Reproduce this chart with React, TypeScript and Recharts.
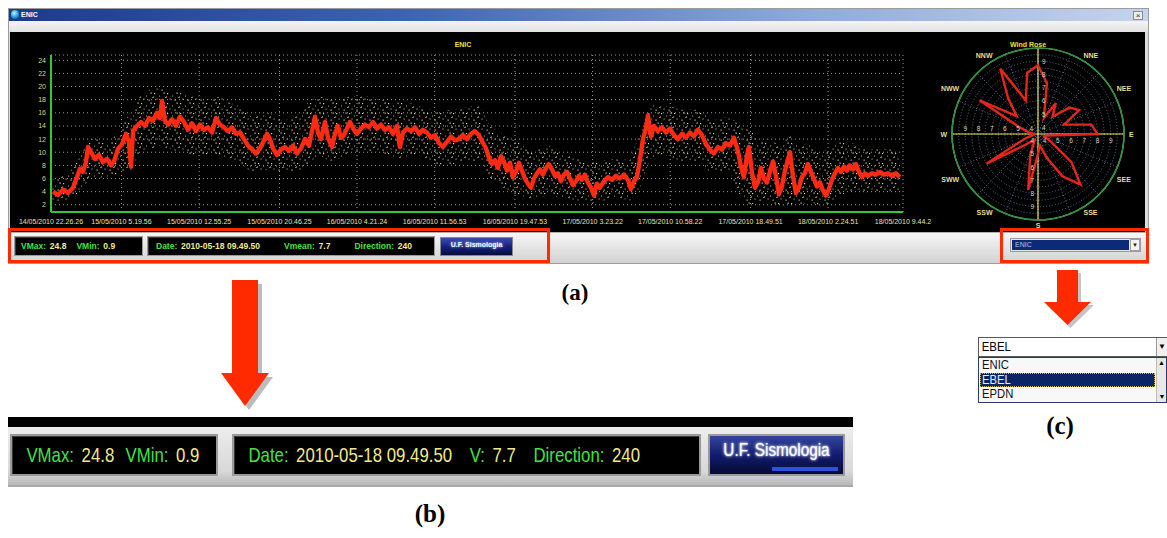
import React from 'react';
import {
  ComposedChart, Line, Area, XAxis, YAxis, CartesianGrid,
  RadarChart, Radar, PolarGrid, PolarAngleAxis, PolarRadiusAxis,
} from 'recharts';

// wind speed at ENIC (m/s), running mean, hours after 14/05/2010 22.26.26
const sampleHours = [
  0.20, 0.68, 1.17, 1.66, 2.15, 2.54, 2.83, 3.13, 3.42, 3.62,
  3.91, 4.30, 4.69, 5.08, 5.47, 5.87, 6.16, 6.55, 6.94, 7.33,
  7.62, 7.82, 8.02, 8.41, 8.80, 9.19, 9.58, 9.97, 10.36, 10.65,
  10.85, 11.14, 11.44, 11.83, 12.22, 12.61, 13.00, 13.39, 13.78, 14.17,
  14.56, 14.96, 15.35, 15.74, 16.13, 16.52, 16.91, 17.30, 17.69, 18.08,
  18.47, 18.87, 19.26, 19.65, 20.04, 20.43, 20.82, 21.11, 21.41, 21.70,
  22.09, 22.48, 22.87, 23.26, 23.66, 24.05, 24.44, 24.83, 25.22, 25.51,
  25.81, 26.10, 26.39, 26.78, 27.08, 27.47, 27.76, 28.05, 28.35, 28.64,
  28.93, 29.23, 29.62, 29.91, 30.30, 30.69, 31.08, 31.48, 31.87, 32.26,
  32.65, 33.04, 33.43, 33.82, 34.11, 34.41, 34.80, 35.19, 35.58, 35.97,
  36.36, 36.75, 37.15, 37.54, 37.93, 38.32, 38.71, 39.10, 39.49, 39.88,
  40.27, 40.66, 41.06, 41.45, 41.84, 42.23, 42.52, 42.81, 43.11, 43.40,
  43.69, 43.99, 44.28, 44.57, 44.87, 45.16, 45.45, 45.75, 46.04, 46.33,
  46.63, 46.92, 47.21, 47.51, 47.80, 48.09, 48.39, 48.68, 48.97, 49.27,
  49.56, 49.85, 50.15, 50.44, 50.73, 51.03, 51.32, 51.61, 51.91, 52.20,
  52.49, 52.79, 53.08, 53.37, 53.66, 54.06, 54.45, 54.84, 55.23, 55.62,
  56.01, 56.40, 56.70, 56.99, 57.28, 57.57, 57.87, 58.16, 58.36, 58.65,
  58.94, 59.33, 59.73, 60.12, 60.51, 60.90, 61.29, 61.68, 62.07, 62.46,
  62.85, 63.24, 63.64, 64.03, 64.42, 64.81, 65.20, 65.59, 65.98, 66.37,
  66.76, 67.15, 67.45, 67.74, 68.03, 68.23, 68.52, 68.82, 69.11, 69.40,
  69.70, 69.99, 70.28, 70.58, 70.87, 71.16, 71.46, 71.75, 72.04, 72.24,
  72.53, 72.82, 73.12, 73.41, 73.70, 74.00, 74.29, 74.58, 74.88, 75.17,
  75.46, 75.76, 76.05, 76.34, 76.64, 76.93, 77.22, 77.52, 77.81, 78.10,
  78.40, 78.69, 78.98, 79.28, 79.57, 79.86, 80.25, 80.64, 81.04, 81.43,
  81.82, 82.21, 82.60, 82.99,
];
const meanSpeed = [
  4.0, 3.5, 4.3, 3.8, 4.6, 6.2, 7.5, 7.0, 8.5, 10.8,
  10.0, 9.0, 9.6, 8.5, 9.0, 8.0, 8.6, 10.5, 11.2, 12.8,
  11.5, 7.8, 13.2, 14.0, 14.6, 14.0, 15.2, 14.8, 16.0, 15.2,
  17.8, 14.8, 14.2, 15.0, 14.0, 15.4, 14.6, 13.4, 14.4, 13.2,
  14.2, 13.4, 13.8, 13.0, 15.2, 14.2, 13.8, 13.2, 13.8, 12.8,
  13.0, 12.0, 11.0, 10.5, 9.8, 10.6, 11.8, 12.8, 12.0, 10.6,
  9.6, 10.4, 10.8, 10.2, 11.0, 9.8, 10.6, 12.0, 11.0, 13.2,
  15.4, 13.0, 12.0, 14.6, 12.2, 10.8, 12.8, 14.0, 12.2, 12.6,
  13.6, 14.6, 13.4, 12.8, 13.6, 14.2, 13.8, 14.6, 13.6, 14.2,
  13.4, 13.8, 12.8, 14.0, 10.8, 13.0, 13.6, 13.2, 13.8, 12.8,
  13.4, 13.0, 12.2, 12.6, 11.4, 10.8, 11.6, 12.4, 11.8, 12.0,
  12.6, 12.0, 12.8, 13.2, 12.6, 11.4, 10.6, 9.2, 8.2, 8.8,
  7.6, 9.4, 8.6, 7.2, 8.4, 6.2, 7.0, 8.4, 7.2, 6.0,
  5.2, 4.6, 6.0, 6.8, 7.4, 6.6, 7.6, 8.2, 7.4, 6.4,
  6.8, 5.6, 6.6, 7.0, 6.0, 5.0, 5.6, 6.4, 5.8, 6.6,
  5.4, 4.6, 3.4, 5.2, 4.6, 5.6, 6.2, 5.8, 6.4, 6.0,
  6.6, 5.8, 4.4, 5.6, 6.2, 8.8, 12.0, 13.6, 15.6, 12.4,
  14.0, 13.2, 13.8, 13.0, 13.6, 12.6, 12.0, 12.8, 12.2, 13.0,
  12.4, 13.4, 12.6, 11.2, 10.4, 9.8, 10.8, 10.4, 11.4, 11.0,
  12.2, 10.2, 7.8, 6.2, 9.4, 10.8, 7.0, 4.6, 5.4, 7.6,
  6.0, 5.4, 7.0, 8.6, 6.4, 3.6, 4.8, 7.2, 8.8, 10.0,
  6.4, 3.8, 4.6, 6.2, 6.8, 8.2, 7.0, 6.0, 4.8, 5.4,
  4.2, 3.4, 4.4, 5.8, 6.8, 7.6, 7.0, 7.8, 7.2, 8.0,
  7.4, 8.2, 7.0, 6.2, 6.8, 6.4, 6.8, 6.6, 7.0, 6.6,
  6.8, 6.4, 6.8, 6.2,
];

// spread of the raw readings around the mean
const cloudHours = [
  0, 0.88, 1.86, 2.83, 3.81, 4.79, 5.77, 6.74, 7.72, 8.70,
  9.68, 10.65, 11.63, 12.61, 13.59, 14.56, 15.54, 16.52, 17.50, 18.47,
  19.45, 20.43, 21.41, 22.38, 23.36, 24.34, 25.32, 26.30, 27.27, 28.25,
  29.23, 30.21, 31.18, 32.16, 33.14, 34.11, 35.09, 36.07, 37.05, 38.02,
  39.00, 39.98, 40.96, 41.94, 42.91, 43.89, 44.87, 45.85, 46.82, 47.80,
  48.78, 49.76, 50.73, 51.71, 52.69, 53.66, 54.64, 55.62, 56.60, 57.57,
  58.55, 59.53, 60.51, 61.48, 62.46, 63.44, 64.42, 65.40, 66.37, 67.35,
  68.33, 69.31, 70.28, 71.26, 72.24, 73.22, 74.19, 75.17, 76.15, 77.13,
  78.10, 79.08, 80.06, 81.04, 82.01, 82.99,
];
const cloudLow = [
  2.4, 2.4, 2.8, 4.0, 6.0, 6.2, 6.0, 7.0, 7.0, 10.0,
  10.5, 11.0, 10.5, 10.0, 9.5, 9.5, 9.5, 9.5, 9.0, 8.5,
  7.0, 7.0, 7.5, 7.0, 7.0, 7.0, 8.5, 9.5, 8.5, 9.0,
  10.0, 10.0, 10.0, 10.0, 9.5, 9.0, 9.5, 9.5, 8.5, 8.0,
  8.0, 8.5, 8.5, 8.5, 6.0, 5.0, 3.8, 3.5, 2.8, 3.2,
  3.5, 3.0, 2.8, 2.6, 2.2, 2.4, 3.0, 3.0, 2.6, 4.5,
  9.0, 9.5, 9.5, 8.5, 8.5, 8.5, 7.0, 7.0, 7.0, 3.5,
  2.0, 2.5, 2.5, 1.8, 2.0, 2.0, 2.5, 1.8, 2.2, 3.5,
  4.0, 3.8, 4.0, 4.0, 4.0, 4.0,
];
const cloudHigh = [
  5.8, 6.2, 7.0, 9.5, 12.0, 12.0, 11.5, 13.5, 16.0, 18.5,
  19.5, 20.0, 19.5, 19.0, 18.5, 18.5, 18.0, 18.5, 17.5, 17.0,
  15.5, 15.5, 16.0, 15.0, 15.0, 16.0, 18.0, 18.5, 18.0, 18.0,
  18.5, 18.5, 18.5, 18.0, 18.0, 17.5, 17.5, 17.0, 16.5, 16.0,
  16.5, 16.5, 17.0, 17.0, 14.0, 13.0, 12.0, 11.5, 10.0, 10.5,
  11.0, 10.0, 9.5, 9.0, 8.5, 8.5, 9.0, 9.0, 8.8, 13.0,
  17.5, 17.0, 17.0, 16.5, 16.5, 16.5, 15.0, 15.0, 15.5, 14.0,
  13.5, 11.5, 12.0, 11.0, 12.5, 11.0, 11.5, 10.0, 10.5, 11.5,
  11.5, 11.0, 10.5, 10.5, 10.5, 10.0,
];

const timeTicks = [
  '14/05/2010 22.26.26', '15/05/2010 5.19.56', '15/05/2010 12.55.25', '15/05/2010 20.46.25',
  '16/05/2010 4.21.24', '16/05/2010 11.56.53', '16/05/2010 19.47.53', '17/05/2010 3.23.22',
  '17/05/2010 10.58.22', '17/05/2010 18.49.51', '18/05/2010 2.24.51', '18/05/2010 9.44.2',
];
const speedTicks = [2, 4, 6, 8, 10, 12, 14, 16, 18, 20, 22, 24];

const vMax = 24.8;
const vMin = 0.9;
const lastDate = '2010-05-18 09.49.50';
const vMean = 7.7;
const direction = 240;

// wind rose: mean speed per 10 degree sector, clockwise from north
const roseDirs = [0, 10, 20, 30, 40, 50, 60, 70, 80, 90, 100, 110, 120, 130, 140, 150, 160, 170,
  180, 190, 200, 210, 220, 230, 240, 250, 260, 270, 280, 290, 300, 310, 320, 330, 340, 350];
const roseSpeed = [8.7, 7.4, 4.8, 6.2, 5.2, 6.6, 7.1, 5.6, 7.6, 8.0, 4.2, 4.0, 4.6, 6.8, 8.5, 7.2, 5.4, 4.4,
  5.0, 7.8, 5.2, 4.0, 4.2, 4.8, 8.0, 4.6, 3.9, 3.8, 4.2, 5.0, 8.6, 5.6, 7.0, 9.2, 6.2, 8.2];
const compassNames = ['', 'NNE', 'NEE', 'E', 'SEE', 'SSE', 'S', 'SSW', 'SWW', 'W', 'NWW', 'NNW'];
const roseRings = [3.5, 4, 4.5, 5, 5.5, 6, 6.5, 7, 7.5, 8, 8.5, 9, 9.5];

const stations = ['ENIC', 'EBEL', 'EPDN'];

function toHours(label: string) {
  const [d, t] = label.split(' ');
  const [dd, mm, yy] = d.split('/').map(Number);
  const [h, m, s] = t.split('.').map(Number);
  return Date.UTC(yy, mm - 1, dd, h, m, s || 0) / 3600000;
}
const t0 = toHours(timeTicks[0]);
const tickHours = timeTicks.map((l) => toHours(l) - t0);

const windData = [
  ...sampleHours.map((h, i) => ({ h, v: meanSpeed[i] })),
  ...cloudHours.map((h, i) => ({ h, cloud: [cloudLow[i], cloudHigh[i]] })),
].sort((a, b) => a.h - b.h);

const roseData = roseDirs.map((dir, i) => ({ dir, v: roseSpeed[i] }));

const ROSE_CX = 100;
const ROSE_CY = 100;
const ROSE_R = 86;

const GREEN = '#46e046';
const PALE = '#f0ea8c';

const abs = (left: number, top: number, width: number, height: number, extra: React.CSSProperties = {}): React.CSSProperties =>
  ({ position: 'absolute', left, top, width, height, boxSizing: 'border-box', ...extra });

function TimeTick({ x, y, payload }: any) {
  const i = tickHours.indexOf(payload.value);
  return (
    <text x={x} y={y} dy={7} textAnchor="middle" fill="#e6e2b4" fontSize={7} fontFamily="Liberation Sans, Arial">
      {timeTicks[i] ?? ''}
    </text>
  );
}

function SpeedTick({ x, y, payload }: any) {
  return (
    <text x={x} y={y} dy={2.5} textAnchor="end" fill="#d8d48a" fontSize={7} fontFamily="Liberation Sans, Arial">
      {payload.value}
    </text>
  );
}

function CompassTick({ x, y, payload, textAnchor }: any) {
  const v = payload.value;
  const name = v % 30 === 0 ? compassNames[v / 30] : '';
  if (!name) return <g />;
  return (
    <text x={x} y={y} dy={2.5} textAnchor={textAnchor} fill="#e4dc98" fontSize={7} fontWeight="bold" fontFamily="Liberation Sans, Arial">
      {name}
    </text>
  );
}

function RingTick({ x, payload, cx }: any) {
  const v = payload.value;
  if (!Number.isInteger(v)) return <g />;
  const c = typeof cx === 'number' ? cx : ROSE_CX;
  const r = x - c;
  const props = { fill: '#d6d6b0', fontSize: 6.5, fontFamily: 'Liberation Sans, Arial' };
  return (
    <g>
      <text x={ROSE_CX + r} y={ROSE_CY + 9} textAnchor="middle" {...props}>{v}</text>
      <text x={ROSE_CX - r} y={ROSE_CY - 3} textAnchor="middle" {...props}>{v}</text>
      <text x={ROSE_CX + 4} y={ROSE_CY - r + 2.5} textAnchor="start" {...props}>{v}</text>
      <text x={ROSE_CX - 4} y={ROSE_CY + r + 2.5} textAnchor="end" {...props}>{v}</text>
    </g>
  );
}

function StatusText({ items, size, gap }: { items: [string, string][]; size: number; gap: number }) {
  return (
    <>
      {items.map(([label, value], i) => (
        <span key={i} style={{ marginLeft: i ? gap : 0, whiteSpace: 'nowrap' }}>
          <span style={{ color: GREEN }}>{label}</span>
          <span style={{ color: PALE, marginLeft: size * 0.45 }}>{value}</span>
        </span>
      ))}
    </>
  );
}

const blackBox = (left: number, top: number, width: number, height: number, border: number): React.CSSProperties =>
  abs(left, top, width, height, {
    background: '#000',
    border: `${border}px solid #9a9a9a`,
    boxShadow: 'inset 1px 1px 0 #3a3a3a',
    display: 'flex',
    alignItems: 'center',
    overflow: 'hidden',
    whiteSpace: 'nowrap',
  });

export default function App() {
  return (
    <div style={abs(0, 0, 1167, 538, { background: '#fff', overflow: 'hidden', fontFamily: '"Liberation Sans", Arial, sans-serif' })}>
      {/* application window */}
      <div style={abs(8, 8, 1141, 256, { background: '#dcdcdc', border: '1px solid #9c9c9c' })} />
      <div style={abs(9, 9, 1139, 12, { background: 'linear-gradient(90deg, #1c3a8a 0%, #3d64b0 35%, #8eaad8 70%, #c6d4ec 100%)' })} />
      <div style={abs(11, 10, 8, 9, { borderRadius: 4, background: 'radial-gradient(circle at 40% 35%, #b8f0ff, #1e90c8 60%, #0a4a80)' })} />
      <div style={abs(21, 9, 40, 12, { color: '#fff', fontSize: 7, fontWeight: 'bold', lineHeight: '12px' })}>ENIC</div>
      <div style={abs(1133, 11, 10, 9, { background: '#ececec', border: '1px solid #8a8a8a', fontSize: 8, lineHeight: '7px', textAlign: 'center', color: '#333' })}>×</div>
      <div style={abs(9, 21, 1139, 11, { background: 'linear-gradient(#f4f4f4, #e2e2e2)' })} />
      <div style={abs(10, 32, 1135, 200, { background: '#000' })} />
      <div style={abs(9, 232, 1139, 31, { background: 'linear-gradient(#f6f6f6, #d2d2d2)', borderTop: '1px solid #b0b0b0' })} />

      {/* time series */}
      <div style={abs(10, 32, 930, 200)}>
        <ComposedChart width={930} height={200} data={windData} margin={{ top: 23, right: 37, bottom: 4, left: 5 }}>
          <defs>
            <pattern id="speckle" width="13" height="10" patternUnits="userSpaceOnUse">
              <rect x="1" y="1" width="1.2" height="1.2" fill="#d6cd8a" />
              <rect x="6" y="3.5" width="1.1" height="1.1" fill="#8aa066" />
              <rect x="10.5" y="0.5" width="1.2" height="1.2" fill="#e2da9a" />
              <rect x="3.5" y="6.5" width="1.1" height="1.1" fill="#b4aa70" />
              <rect x="8.5" y="7.5" width="1.2" height="1.2" fill="#d0c586" />
              <rect x="12" y="5" width="1" height="1" fill="#7a905c" />
              <rect x="0" y="4.5" width="1.1" height="1.1" fill="#c2b980" />
            </pattern>
          </defs>
          <CartesianGrid stroke="#9a9a9a" strokeDasharray="1 3" />
          <XAxis
            type="number"
            dataKey="h"
            domain={[0, tickHours[tickHours.length - 1]]}
            ticks={tickHours}
            interval={0}
            allowDataOverflow
            height={16}
            tick={<TimeTick />}
            tickLine={false}
            tickSize={3}
            axisLine={{ stroke: '#34c834', strokeWidth: 2 }}
          />
          <YAxis
            type="number"
            domain={[vMin, vMax]}
            ticks={speedTicks}
            interval={0}
            allowDataOverflow
            width={36}
            tick={<SpeedTick />}
            tickLine={false}
            tickSize={3}
            tickMargin={2}
            axisLine={{ stroke: '#34c834', strokeWidth: 2 }}
          />
          <Area type="linear" dataKey="cloud" fill="url(#speckle)" fillOpacity={1} stroke="none" connectNulls isAnimationActive={false} />
          <Line type="linear" dataKey="v" stroke="#ff2a12" strokeWidth={4.4} strokeLinejoin="round" dot={false} connectNulls isAnimationActive={false} />
        </ComposedChart>
      </div>
      <div style={abs(440, 40, 46, 10, { color: '#e8e43a', fontSize: 7, fontWeight: 'bold', textAlign: 'center', lineHeight: '10px' })}>ENIC</div>

      {/* wind rose */}
      <div style={abs(938, 34, 200, 196)}>
        <RadarChart width={200} height={196} cx={ROSE_CX} cy={ROSE_CY} outerRadius={ROSE_R} data={roseData} margin={{ top: 0, right: 0, bottom: 0, left: 0 }}>
          <PolarGrid gridType="circle" stroke="#5c6c8e" strokeDasharray="1 2" polarAngles={[0, 22.5, 45, 67.5, 90, 112.5, 135, 157.5, 180, 202.5, 225, 247.5, 270, 292.5, 315, 337.5]} />
          <PolarGrid gridType="circle" stroke="#e6e65a" strokeWidth={1.2} polarAngles={[0, 90, 180, 270]} polarRadius={[ROSE_R]} />
          <PolarAngleAxis dataKey="dir" tick={<CompassTick />} tickLine={false} tickSize={5} axisLineType="circle" stroke="#2f8f45" axisLine={{ stroke: '#2f8f45', strokeWidth: 1.6 }} />
          <PolarRadiusAxis angle={0} domain={[3.5, 9.5]} ticks={roseRings} tickCount={13} axisLine={false} tickLine={false} tick={<RingTick />} />
          <Radar dataKey="v" stroke="#e2261a" strokeWidth={2.4} fill="none" fillOpacity={0} dot={false} isAnimationActive={false} />
        </RadarChart>
      </div>
      <div style={abs(1000, 40, 56, 10, { color: '#e8e43a', fontSize: 7, fontWeight: 'bold', textAlign: 'center', lineHeight: '10px' })}>Wind Rose</div>

      {/* status bar of the window */}
      <div style={blackBox(14, 236, 129, 20, 1)}>
        <div style={{ paddingLeft: 6, fontSize: 8.5, fontWeight: 'bold' }}>
          <StatusText items={[['VMax:', String(vMax)], ['VMin:', String(vMin)]]} size={8.5} gap={10} />
        </div>
      </div>
      <div style={blackBox(147, 236, 288, 20, 1)}>
        <div style={{ paddingLeft: 8, fontSize: 8.5, fontWeight: 'bold' }}>
          <StatusText items={[['Date:', lastDate], ['Vmean:', String(vMean)], ['Direction:', String(direction)]]} size={8.5} gap={24} />
        </div>
      </div>
      <div style={abs(440, 237, 73, 19, { background: 'linear-gradient(180deg, #3a4ab0 0%, #141e78 55%, #070c3c 100%)', border: '1px solid #8a8a8a', color: '#fff', fontSize: 7, fontWeight: 'bold', textAlign: 'center', lineHeight: '13px', whiteSpace: 'nowrap', textShadow: '0 0 3px #c0c8ff' })}>U.F. Sismologia</div>

      {/* station selector */}
      <div style={abs(1010, 238, 131, 14, { background: '#e6e6e6', border: '1px solid #9a9a9a' })} />
      <div style={abs(1012, 240, 117, 10, { background: '#0c2a78', color: '#b8c4e6', fontSize: 7, lineHeight: '10px', paddingLeft: 3 })}>{stations[0]}</div>
      <div style={abs(1130, 239, 10, 12, { background: '#f4f4f4', border: '1px solid #a0a0a0', fontSize: 6, lineHeight: '10px', textAlign: 'center', color: '#222' })}>▼</div>

      {/* red highlight frames */}
      <div style={abs(8, 228, 542, 35, { border: '3px solid #ff2a00' })} />
      <div style={abs(1000, 228, 149, 35, { border: '3px solid #ff2a00' })} />

      {/* arrows */}
      <svg style={abs(0, 0, 1167, 538, { pointerEvents: 'none' })} width={1167} height={538}>
        <polygon points="236,284 262,284 262,377 273,377 249,410 225,377 236,377" fill="#bcbcbc" />
        <polygon points="232,280 258,280 258,373 269,373 245,406 221,373 232,373" fill="#ff2a00" />
        <polygon points="1060,273 1081,273 1081,305 1094,305 1070.5,328 1047,305 1060,305" fill="#c4c4c4" />
        <polygon points="1057,270 1078,270 1078,302 1091,302 1067.5,325 1044,302 1057,302" fill="#ff2a00" />
      </svg>

      <div style={abs(545, 280, 60, 30, { fontFamily: '"Liberation Serif", serif', fontWeight: 'bold', fontSize: 23, textAlign: 'center' })}>(a)</div>

      {/* (b) enlarged status bar */}
      <div style={abs(8, 417, 845, 70, { background: 'linear-gradient(#f2f2f2, #d8d8d8 80%, #b8b8b8)', borderBottom: '2px solid #a8a8a8' })} />
      <div style={abs(8, 417, 845, 10, { background: '#000' })} />
      <div style={blackBox(10, 434, 208, 42, 2)}>
        <div style={{ paddingLeft: 18, fontSize: 21, transform: 'scaleX(0.8)', transformOrigin: 'left center' }}>
          <StatusText items={[['VMax:', String(vMax)], ['VMin:', String(vMin)]]} size={21} gap={14} />
        </div>
      </div>
      <div style={blackBox(232, 434, 469, 42, 2)}>
        <div style={{ paddingLeft: 18, fontSize: 21, transform: 'scaleX(0.8)', transformOrigin: 'left center' }}>
          <StatusText items={[['Date:', lastDate], ['V:', String(vMean)], ['Direction:', String(direction)]]} size={21} gap={22} />
        </div>
      </div>
      <div style={abs(708, 434, 137, 42, { background: 'linear-gradient(180deg, #34449e 0%, #121c6e 50%, #060a34 100%)', border: '2px solid #9a9a9a', overflow: 'hidden' })}>
        <div style={{ color: '#fff', fontSize: 18, lineHeight: '22px', textAlign: 'center', marginTop: 3, whiteSpace: 'nowrap', transform: 'scaleX(0.85)', textShadow: '0 0 4px #dde2ff, 0 0 2px #fff' }}>U.F. Sismologia</div>
        <div style={abs(62, 31, 66, 4, { background: '#2f52d8' })} />
      </div>
      <div style={abs(400, 500, 60, 36, { fontFamily: '"Liberation Serif", serif', fontWeight: 'bold', fontSize: 25, textAlign: 'center' })}>(b)</div>

      {/* (c) station list */}
      <div style={abs(978, 337, 189, 20, { border: '1px solid #5a5a5a', background: '#fff' })}>
        <div style={{ fontSize: 13, lineHeight: '18px', paddingLeft: 3, transform: 'scaleX(0.88)', transformOrigin: 'left center' }}>{stations[1]}</div>
        <div style={abs(177, 0, 11, 18, { background: '#f0f0f0', borderLeft: '1px solid #999', fontSize: 8, lineHeight: '18px', textAlign: 'center' })}>▼</div>
      </div>
      <div style={abs(978, 357, 189, 46, { border: '1px solid #2a3a6a', background: '#f8f8f8' })}>
        {stations.map((s, i) => (
          <div key={s} style={abs(1, i * 14.6, 175, 14.6, {
            background: i === 1 ? '#0a2466' : 'transparent',
            color: i === 1 ? '#e8ecff' : '#111',
            outline: i === 1 ? '1px dotted #c8b060' : 'none',
            outlineOffset: -1,
            fontSize: 12.5, lineHeight: '14.6px', paddingLeft: 2,
          })}>
            <span style={{ display: 'inline-block', transform: 'scaleX(0.9)', transformOrigin: 'left center' }}>{s}</span>
          </div>
        ))}
        <div style={abs(177, 0, 10, 44, { background: '#e8e8e8', borderLeft: '1px solid #bbb' })}>
          <div style={{ fontSize: 7, textAlign: 'center', lineHeight: '10px' }}>▲</div>
          <div style={abs(0, 34, 10, 10, { fontSize: 7, textAlign: 'center', lineHeight: '10px' })}>▼</div>
        </div>
      </div>
      <div style={abs(1030, 412, 60, 36, { fontFamily: '"Liberation Serif", serif', fontWeight: 'bold', fontSize: 25, textAlign: 'center' })}>(c)</div>
    </div>
  );
}
